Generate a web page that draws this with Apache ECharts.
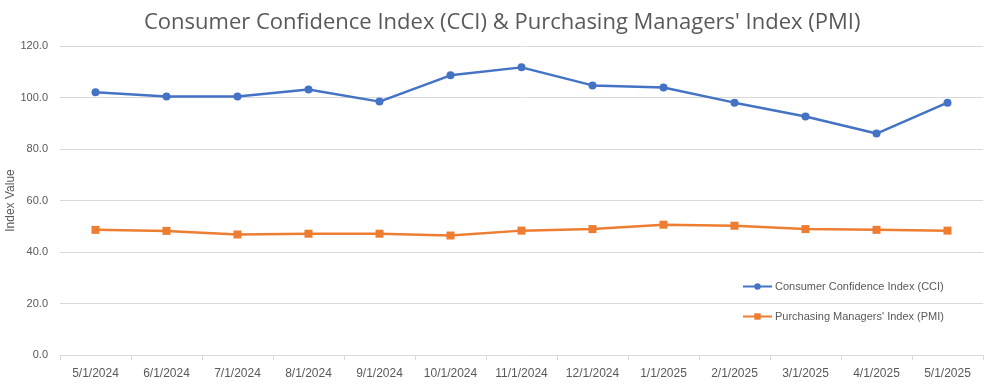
<!DOCTYPE html>
<html>
<head>
<meta charset="utf-8">
<script src="https://cdn.jsdelivr.net/npm/echarts@6/dist/echarts.min.js"></script>
<style>
html,body{margin:0;padding:0;background:#fff;}
#main{width:992px;height:385px;}
</style>
</head>
<body>
<div id="main"></div>
<script>
const categories = ['5/1/2024','6/1/2024','7/1/2024','8/1/2024','9/1/2024','10/1/2024','11/1/2024','12/1/2024','1/1/2025','2/1/2025','3/1/2025','4/1/2025','5/1/2025'];
const cciValues = [102.0, 100.4, 100.4, 103.1, 98.4, 108.6, 111.7, 104.7, 103.9, 98.0, 92.6, 86.0, 98.0];
const pmiValues = [48.6, 48.2, 46.8, 47.1, 47.1, 46.4, 48.3, 48.9, 50.6, 50.2, 48.9, 48.6, 48.3];
const yTicks = {min: 0, max: 120, interval: 20};

const chart = echarts.init(document.getElementById('main'), null, {renderer: 'canvas'});
const font = 'Liberation Sans';
chart.setOption({
  animation: false,
  backgroundColor: '#ffffff',
  textStyle: {fontFamily: font},
  title: {
    text: "Consumer Confidence Index (CCI) & Purchasing Managers' Index (PMI)",
    left: 144,
    top: 12,
    padding: 0,
    textStyle: {fontFamily: 'Open Sans', fontSize: 22, fontWeight: 'normal', color: '#595959'}
  },
  grid: {left: 60, right: 9, top: 46, bottom: 30, containLabel: false, outerBoundsMode: 'none'},
  legend: {
    orient: 'vertical',
    left: 742,
    top: 281,
    padding: 0,
    itemGap: 19,
    itemWidth: 29,
    itemHeight: 8,
    textStyle: {fontFamily: font, fontSize: 11, color: '#595959', padding: [0, 0, 0, -2]},
    data: ['Consumer Confidence Index (CCI)', "Purchasing Managers' Index (PMI)"]
  },
  xAxis: {
    type: 'category',
    data: categories,
    boundaryGap: true,
    axisLine: {lineStyle: {color: '#d9d9d9', width: 1}},
    axisTick: {show: true, length: 5, lineStyle: {color: '#d9d9d9'}},
    axisLabel: {fontFamily: font, fontSize: 12, color: '#595959', margin: 13, interval: 0}
  },
  yAxis: {
    type: 'value',
    min: yTicks.min,
    max: yTicks.max,
    interval: yTicks.interval,
    name: 'Index Value',
    nameLocation: 'middle',
    nameGap: 43,
    nameMoveOverlap: false,
    nameRotate: 90,
    nameTextStyle: {fontFamily: font, fontSize: 12, color: '#595959'},
    axisLine: {show: false},
    axisTick: {show: false},
    axisLabel: {fontFamily: font, fontSize: 11, color: '#595959', margin: 12, formatter: v => v.toFixed(1)},
    splitLine: {lineStyle: {color: '#d9d9d9', width: 1}}
  },
  series: [
    {
      name: 'Consumer Confidence Index (CCI)',
      type: 'line',
      data: cciValues,
      symbol: 'circle',
      symbolSize: 8,
      lineStyle: {color: '#4472C4', width: 2.5},
      itemStyle: {color: '#4472C4'}
    },
    {
      name: "Purchasing Managers' Index (PMI)",
      type: 'line',
      data: pmiValues,
      symbol: 'rect',
      symbolSize: 8,
      lineStyle: {color: '#ED7D31', width: 2.5},
      itemStyle: {color: '#ED7D31'}
    }
  ]
});
</script>
</body>
</html>
